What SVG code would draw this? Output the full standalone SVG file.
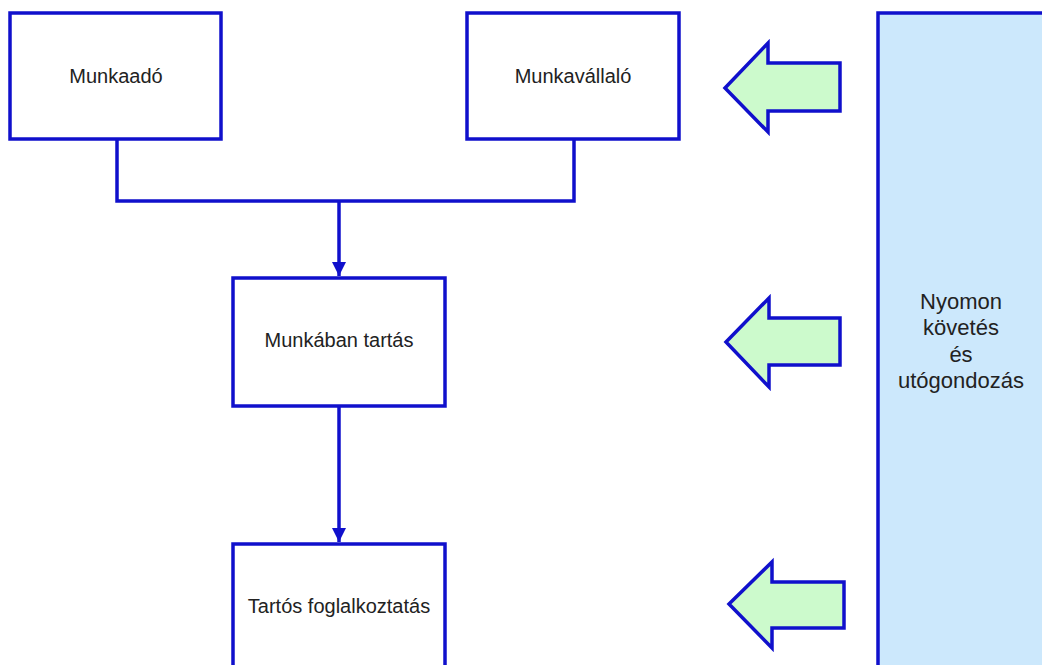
<svg xmlns="http://www.w3.org/2000/svg" width="1042" height="665" viewBox="0 0 1042 665">
<style>
.box{fill:#ffffff;stroke:#1010cc;stroke-width:3.5}
.panel{fill:#cce8fc;stroke:#1010cc;stroke-width:3.5}
.big{fill:#ccfacc;stroke:#1010cc;stroke-width:3.5;stroke-linejoin:miter}
.lbl{font-family:"Liberation Sans",Arial,sans-serif;font-size:20px;fill:#222222;text-anchor:middle}
.plbl{font-family:"Liberation Sans",Arial,sans-serif;font-size:22px;fill:#222222;text-anchor:middle}
.conn{fill:none;stroke:#1010cc;stroke-width:3.5}
</style>
<defs>
<marker id="ah" markerUnits="userSpaceOnUse" markerWidth="16" markerHeight="16" refX="14" refY="8" orient="auto">
<path d="M0,1 L14,8 L0,15 Z" fill="#1010cc"/>
</marker>
</defs>
<rect width="1042" height="665" fill="#ffffff"/>
<g id="panel">
<rect class="panel" x="878" y="13" width="180" height="670"/>
<text class="plbl" x="961" y="309">Nyomon</text>
<text class="plbl" x="961" y="335">követés</text>
<text class="plbl" x="961" y="362">és</text>
<text class="plbl" x="961" y="388">utógondozás</text>
</g>
<g id="munkaado">
<rect class="box" x="10" y="13" width="211" height="126"/>
<text class="lbl" x="116" y="83">Munkaadó</text>
</g>
<g id="munkavallalo">
<rect class="box" x="467" y="13" width="212" height="126"/>
<text class="lbl" x="573" y="83">Munkavállaló</text>
</g>
<g id="munkaban">
<rect class="box" x="233" y="278" width="212" height="128"/>
<text class="lbl" x="339" y="347">Munkában tartás</text>
</g>
<g id="tartos">
<rect class="box" x="233" y="544" width="212" height="140"/>
<text class="lbl" x="339" y="613">Tartós foglalkoztatás</text>
</g>
<g id="arrows">
<polygon class="big" points="725,88 768,43 768,63 840,63 840,111 768,111 768,132"/>
<polygon class="big" points="726,342 769,298 769,318 840,318 840,365 769,365 769,387"/>
<polygon class="big" points="729,604 772,562 772,582 844,582 844,628 772,628 772,648"/>
</g>
<g id="connectors">
<polyline class="conn" points="117,139 117,201 574,201 574,139"/>
<line class="conn" x1="339" y1="201" x2="339" y2="276" marker-end="url(#ah)"/>
<line class="conn" x1="339" y1="406" x2="339" y2="542" marker-end="url(#ah)"/>
</g>
</svg>
